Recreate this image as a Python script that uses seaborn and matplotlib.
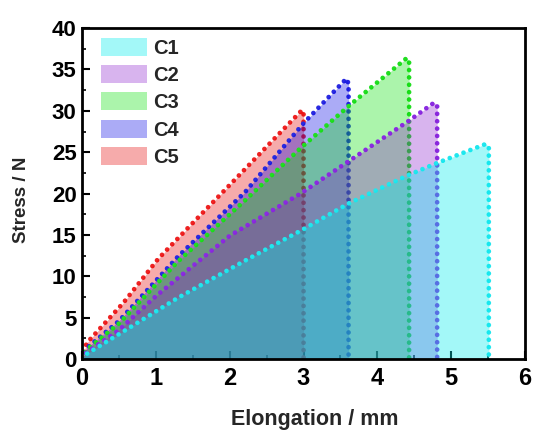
import matplotlib
matplotlib.use("Agg")
import matplotlib.pyplot as plt
import seaborn as sns
import pandas as pd
from matplotlib.patches import Patch
from matplotlib.ticker import MultipleLocator

sns.set_theme(style="white")
plt.rcParams['font.family'] = ['Liberation Sans', 'DejaVu Sans']

names = ["C1", "C2", "C3", "C4", "C5"]
c1_x = [0, 0.06, 0.5, 1.3, 2.21, 3.0, 3.61, 4.41, 4.81, 5.47, 5.51]
c1_y = [0, 0.6, 3.0, 7.4, 11.9, 15.7, 18.8, 22.2, 23.7, 26.0, 25.6]
c2_x = [0, 0.06, 0.5, 1.0, 2.0, 2.96, 3.61, 4.41, 4.77, 4.81]
c2_y = [0, 0.8, 3.5, 7.6, 14.9, 20.0, 23.9, 28.7, 31.0, 30.6]
c3_x = [0, 0.06, 0.5, 1.3, 2.21, 2.96, 3.64, 4.40, 4.43]
c3_y = [0, 1.1, 4.3, 11.8, 19.2, 25.5, 30.8, 36.4, 36.0]
c4_x = [0, 0.06, 0.5, 1.3, 2.21, 3.0, 3.58, 3.61]
c4_y = [0, 1.3, 4.6, 12.4, 20.2, 28.5, 33.9, 33.3]
c5_x = [0, 0.06, 0.56, 1.03, 1.44, 2.05, 2.6, 2.98, 3.0]
c5_y = [0, 1.9, 6.8, 12.1, 15.9, 21.5, 26.6, 30.1, 29.8]

xs = [c1_x, c2_x, c3_x, c4_x, c5_x]
ys = [c1_y, c2_y, c3_y, c4_y, c5_y]
line_colors = ["#22e6ee", "#8a2be2", "#22dd22", "#2a2ae0", "#ee2222"]
fill_colors = ["#00eeee", "#8a1ccc", "#00e000", "#0000e6", "#e60000"]
fill_alphas = [0.36, 0.33, 0.33, 0.33, 0.33]

frames = []
for n, x, y in zip(names, xs, ys):
    xx = list(x) + [x[-1]]
    yy = list(y) + [0]
    frames.append(pd.DataFrame({"x": xx, "y": yy, "s": n}))
df = pd.concat(frames, ignore_index=True)

fig = plt.figure(figsize=(5.33, 4.33), dpi=100)
ax = fig.add_axes([0.154, 0.171, 0.831, 0.764])

z = 2
for n, lc, fc, fa in reversed(list(zip(names, line_colors, fill_colors, fill_alphas))):
    d = df[df.s == n]
    sns.lineplot(data=d, x="x", y="y", sort=False, estimator=None, ax=ax,
                 color=lc, linewidth=3.4, linestyle=(0, (0.01, 1.55)),
                 dash_capstyle='round', legend=False, zorder=z)
    ax.fill_between(d.x, d.y, 0, color=fc, alpha=fa, linewidth=0, zorder=z + 1)
    z += 2

ax.set_xlim(0, 6)
ax.set_ylim(0, 40)
ax.xaxis.set_major_locator(MultipleLocator(1))
ax.xaxis.set_minor_locator(MultipleLocator(0.5))
ax.yaxis.set_major_locator(MultipleLocator(5))
ax.yaxis.set_minor_locator(MultipleLocator(2.5))
ax.tick_params(which='both', direction='in', top=False, right=False,
               bottom=True, left=True, colors='black')
ax.tick_params(which='major', length=6, width=1.5)
ax.tick_params(axis='x', which='major', pad=6, labelsize=17)
ax.tick_params(axis='y', which='major', pad=4, labelsize=16)
ax.tick_params(which='minor', length=3, width=1.2)
for lab in ax.get_xticklabels() + ax.get_yticklabels():
    lab.set_fontweight('bold')
for sp in ax.spines.values():
    sp.set_color('black')
    sp.set_linewidth(2)
    sp.set_zorder(20)

ax.set_xlabel("Elongation / mm", fontsize=15.5, fontweight='bold')
ax.xaxis.set_label_coords((315 - 82) / 443, -0.152)
ax.set_ylabel("Stress / N", fontsize=13.5, fontweight='bold')
ax.yaxis.set_label_coords(-(82 - 30) / 443, 0.48)

handles = [Patch(facecolor=fc, alpha=fa, edgecolor='none')
           for fc, fa in zip(fill_colors, fill_alphas)]
ax.legend(handles, names, loc='upper left', frameon=False,
          prop={'weight': 'bold', 'size': 14.5}, handlelength=2.3,
          handleheight=1.0, labelspacing=0.36, handletextpad=0.3,
          borderpad=0, borderaxespad=0,
          bbox_to_anchor=((100.7 - 82) / 443, 1 - (38 - 28) / 331))

fig.savefig("out.png", dpi=100)
